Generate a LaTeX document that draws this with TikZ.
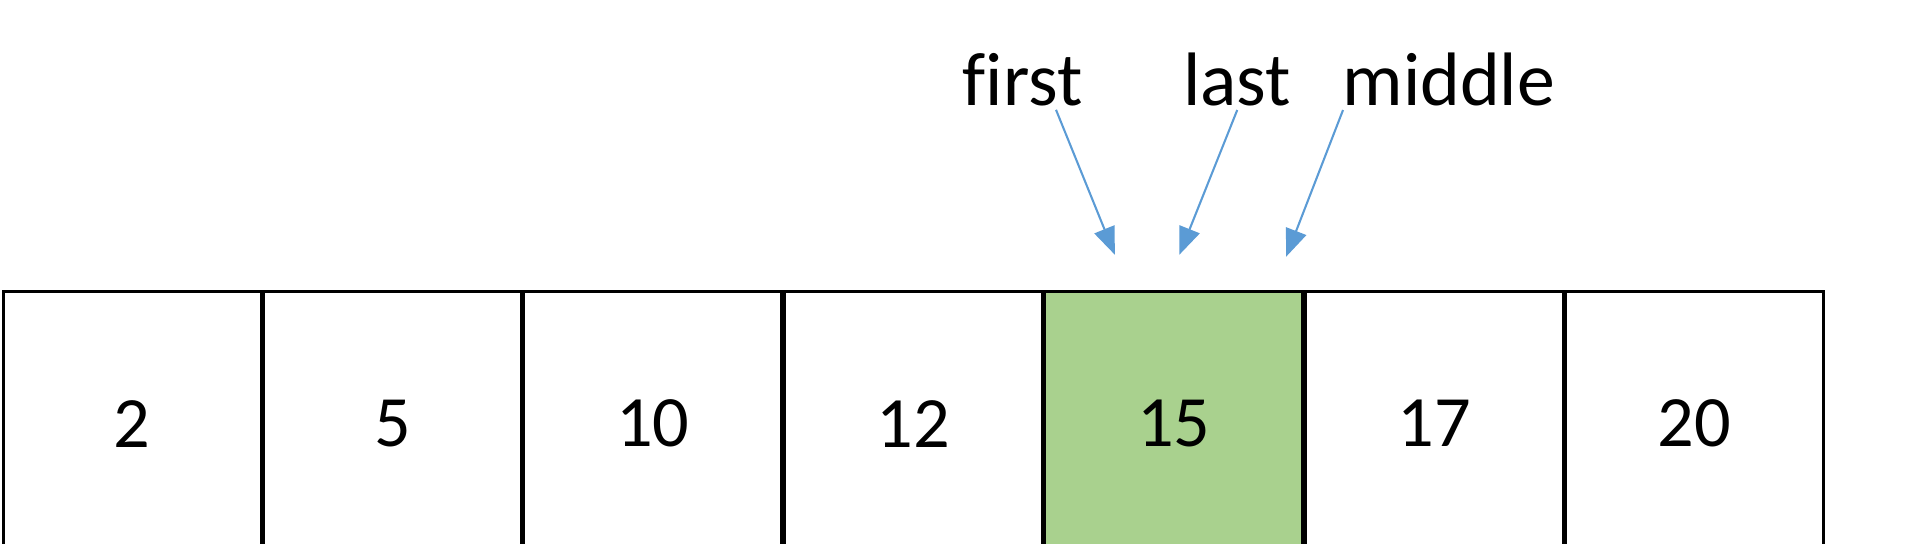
\documentclass[tikz,border=0pt]{standalone}
\usepackage{fontspec}
\setmainfont{Carlito}[Ligatures=NoCommon]
\usetikzlibrary{positioning,arrows.meta}
\definecolor{ptrblue}{HTML}{5B9BD5}
\definecolor{hitgreen}{HTML}{A9D18E}
\begin{document}
\begin{tikzpicture} [node distance=0cm, cell/.style={rectangle, draw, thick, minimum width=2.63cm, minimum height=2.7cm, inner sep=0pt, font=\fontsize{21}{24}\selectfont}, pointer/.style={font=\fontsize{22}{26}\selectfont, inner sep=1pt}, ptr/.style={-{Triangle[length=0.28cm, width=0.22cm]}, ptrblue, semithick}]
	\useasboundingbox (0,0) rectangle (19.6,5.55);
	\clip (0,0) rectangle (19.6,5.55);

	\node [cell, anchor=north west] (c1) at (0.02,2.59) {2};
	\node [cell, right=of c1] (c2) {5};
	\node [cell, right=of c2] (c3) {10};
	\node [cell, right=of c3] (c4) {12};
	\node [cell, right=of c4, fill=hitgreen] (c5) {15};
	\node [cell, right=of c5] (c6) {17};
	\node [cell, right=of c6] (c7) {20};

	% pointer labels
	\node [pointer] (first) at (10.44,4.74) {first};
	\node [pointer] (last) at (12.63,4.74) {last};
	\node [pointer] (middle) at (14.79,4.74) {middle};

	\coordinate (firsttip) at (11.38,2.95);
	\coordinate (lasttip) at (12.04,2.95);
	\coordinate (middletip) at (13.13,2.93);

	% draw edges
	\draw [ptr] ([xshift=0.34cm]first.south) -- (firsttip);
	\draw [ptr] (last.south) -- (lasttip);
	\draw [ptr] ([xshift=-1.08cm]middle.south) -- (middletip);
\end{tikzpicture}
\end{document}
